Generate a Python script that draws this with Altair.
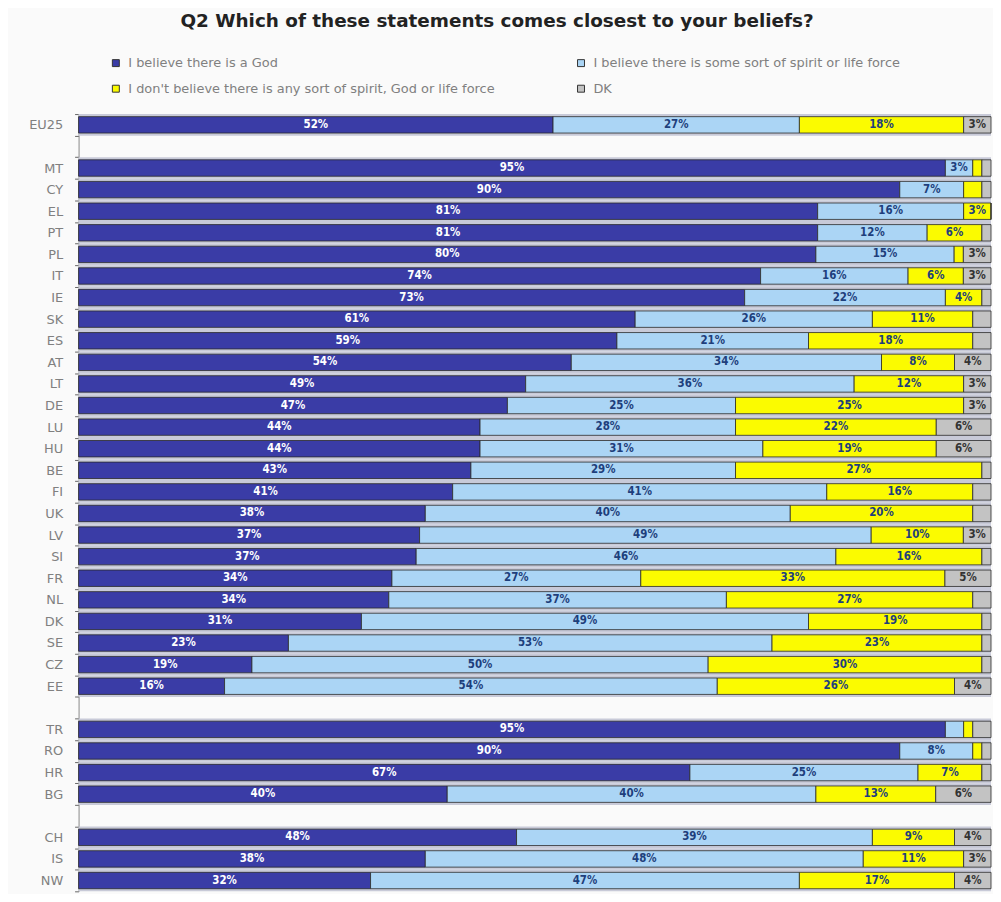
import altair as alt
import pandas as pd

countries = ["EU25", "MT", "CY", "EL", "PT", "PL", "IT", "IE", "SK", "ES", "AT", "LT", "DE",
             "LU", "HU", "BE", "FI", "UK", "LV", "SI", "FR", "NL", "DK", "SE", "CZ", "EE",
             "TR", "RO", "HR", "BG", "CH", "IS", "NW"]
god =    [52, 95, 90, 81, 81, 80, 74, 73, 61, 59, 54, 49, 47, 44, 44, 43, 41, 38, 37, 37, 34, 34, 31, 23, 19, 16, 95, 90, 67, 40, 48, 38, 32]
spirit = [27, 3, 7, 16, 12, 15, 16, 22, 26, 21, 34, 36, 25, 28, 31, 29, 41, 40, 49, 46, 27, 37, 49, 53, 50, 54, 2, 8, 25, 40, 39, 48, 47]
nobel =  [18, 1, 2, 3, 6, 1, 6, 4, 11, 18, 8, 12, 25, 22, 19, 27, 16, 20, 10, 16, 33, 27, 19, 23, 30, 26, 1, 1, 7, 13, 9, 11, 17]
dk =     [3, 1, 1, 0, 1, 3, 3, 1, 2, 2, 4, 3, 3, 6, 6, 1, 2, 2, 3, 1, 5, 2, 1, 1, 1, 4, 2, 1, 1, 6, 4, 3, 4]

row_order = ["EU25", "_b1", "MT", "CY", "EL", "PT", "PL", "IT", "IE", "SK", "ES", "AT", "LT", "DE",
             "LU", "HU", "BE", "FI", "UK", "LV", "SI", "FR", "NL", "DK", "SE", "CZ", "EE", "_b2",
             "TR", "RO", "HR", "BG", "_b3", "CH", "IS", "NW"]

series = ["I believe there is a God",
          "I believe there is some sort of spirit or life force",
          "I don't believe there is any sort of spirit, God or life force",
          "DK"]
colors = ["#3a3ca6", "#abd5f5", "#fbfb00", "#c3c3c3"]
label_colors = ["#ffffff", "#1e3f7c", "#1e3f7c", "#333333"]

rows = []
for i, c in enumerate(countries):
    vals = [god[i], spirit[i], nobel[i], dk[i]]
    total = sum(vals)
    cum = 0.0
    for k, v in enumerate(vals):
        start = cum / total * 100
        cum += v
        end = cum / total * 100
        rows.append({"country": c, "series": series[k], "value": v,
                     "start": start, "end": end, "mid": (start + end) / 2,
                     "label": f"{v}%" if v >= 3 else "",
                     "tcolor": label_colors[k], "order": k})
df = pd.DataFrame(rows)
bg = pd.DataFrame({"country": countries, "x0": [0] * len(countries), "x1": [100] * len(countries)})

yenc = alt.Y("country:N", sort=row_order,
             scale=alt.Scale(domain=row_order, paddingInner=0, paddingOuter=0),
             axis=alt.Axis(title=None, labelExpr="indexof(datum.label, '_b') == 0 ? '' : datum.label",
                           labelColor="#808080", labelFontSize=13, labelFont="DejaVu Sans",
                           labelPadding=12, tickSize=4, tickColor="#666666", domainColor="#888888",
                           tickBand="extent", bandPosition=0))
xscale = alt.Scale(domain=[0, 100], nice=False, zero=True)

shade = alt.Chart(bg).mark_bar(color="#c8cad8", height={"band": 1}).encode(
    x=alt.X("x0:Q", scale=xscale, axis=None), x2="x1:Q", y=yenc)

bars = alt.Chart(df).mark_bar(height={"band": 0.76}, stroke="#2a2a2a", strokeWidth=0.8).encode(
    x=alt.X("start:Q", scale=xscale, axis=None), x2="end:Q", y=yenc,
    color=alt.Color("series:N", scale=alt.Scale(domain=series, range=colors),
                    legend=alt.Legend(title=None, orient="none", legendX=31, legendY=-58,
                                      direction="horizontal", columns=2, columnPadding=79,
                                      rowPadding=12,
                                      symbolType="square", symbolSize=49, symbolStrokeColor="#333333",
                                      symbolStrokeWidth=1, labelFontSize=13, labelColor="#808080",
                                      labelFont="DejaVu Sans", labelLimit=600, labelOffset=6)),
    order="order:Q")

text = alt.Chart(df).mark_text(fontSize=11.5, fontWeight="bold", font="DejaVu Sans Condensed",
                               baseline="middle", align="center").encode(
    x=alt.X("mid:Q", scale=xscale, axis=None), y=yenc, text="label:N",
    color=alt.Color("tcolor:N", scale=None))

chart = alt.layer(shade, bars, text).properties(
    width=918, height=782,
    padding={"left": 71, "top": 104, "right": 2, "bottom": 0},
    autosize=alt.AutoSizeParams(type="none"),
    title=alt.TitleParams("Q2 Which of these statements comes closest to your beliefs?",
                          fontSize=18.5, font="DejaVu Sans", fontWeight="bold", color="#222222",
                          anchor="middle", dx=-38, offset=26),
    background="#fafafa",
).configure_view(stroke=None)

chart.save("out.html", embed_options={"renderer": "svg", "actions": False})
